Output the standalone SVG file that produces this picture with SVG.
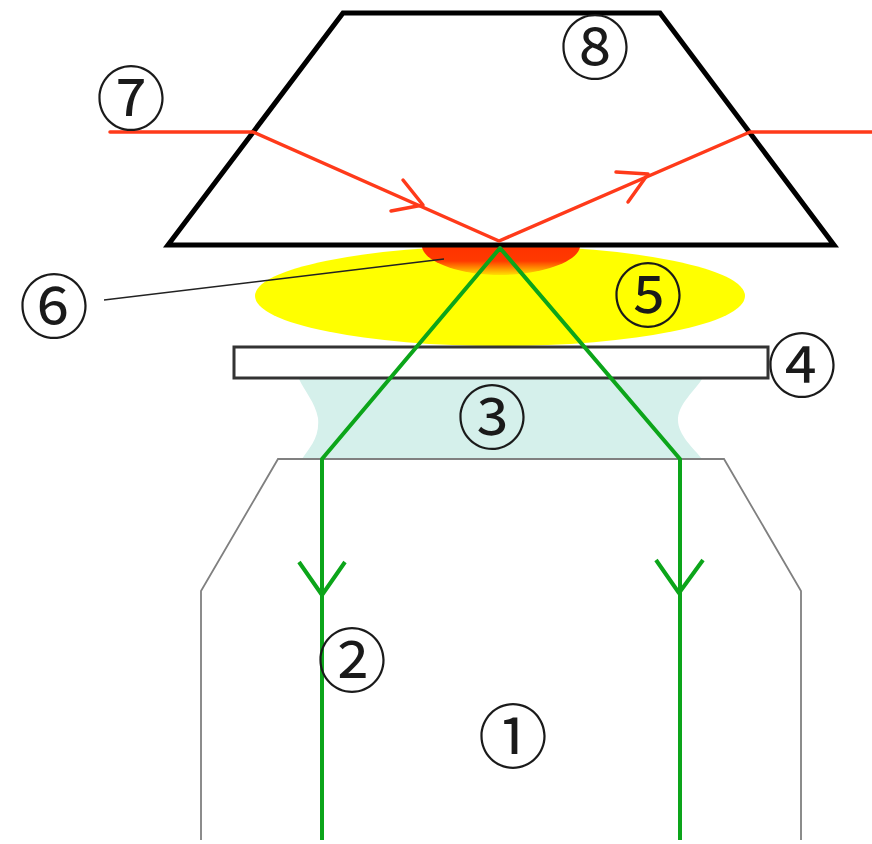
<svg xmlns="http://www.w3.org/2000/svg" width="872" height="844" viewBox="0 0 872 844">
<defs>
<style>
.lab{font-family:"Noto Sans CJK JP","DejaVu Sans",sans-serif;font-size:70px;font-weight:400;fill:#1a1a1a;text-anchor:middle;dominant-baseline:central}
.red{fill:none;stroke:#ff3a1a;stroke-width:3.5;stroke-linecap:round;stroke-linejoin:round}
.grn{fill:none;stroke:#0ca51a;stroke-width:4;stroke-linejoin:round}
.gry{fill:none;stroke:#808080;stroke-width:1.8}
</style>
<linearGradient id="hot" x1="0" y1="0" x2="0" y2="1">
<stop offset="0" stop-color="#ff3300"/><stop offset="0.5" stop-color="#ff3a00"/><stop offset="1" stop-color="#ffe000"/>
</linearGradient>
</defs>
<rect width="872" height="844" fill="#fff"/>
<g id="immersion-oil"><path d="M299 379H702C694 392 680 402 678 418C677 435 694 448 702 459H302C309 448 320 438 318 418C315 402 305 392 299 379Z" fill="#d5f0eb"/></g>
<g id="objective"><path class="gry" d="M201 840V591L278 459H724L801 591V840"/></g>
<g id="sample"><ellipse cx="500" cy="296" rx="245" ry="50" fill="#ffff00"/></g>
<g id="evanescent"><path d="M422 247H580C578 262 540 275 500 275C460 275 424 262 422 247Z" fill="url(#hot)"/></g>
<g id="cover-glass"><rect x="234" y="347" width="534" height="31" fill="#fff" stroke="#333" stroke-width="3"/></g>
<g id="prism"><path d="M343 13H660L834 245H168Z" fill="none" stroke="#000" stroke-width="5"/></g>
<g id="connectors">
<path class="red" d="M110 132H253L499 241L750 132H872"/>
<path class="red" d="M403 180L423 205L391 211"/>
<path class="red" d="M616 172L648 174L628 202"/>
<path class="grn" d="M322 840V459L500 248L680 459V840"/>
<path class="grn" d="M299 562L322 595L345 562"/>
<path class="grn" d="M656 560L679 593L703 560"/>
<path d="M104 300L444 259" fill="none" stroke="#222" stroke-width="1.5"/>
</g>
<g id="label-1"><text class="lab" x="513" y="732">①</text></g>
<g id="label-2"><text class="lab" x="352" y="656">②</text></g>
<g id="label-3"><text class="lab" x="492" y="413">③</text></g>
<g id="label-4"><text class="lab" x="802" y="361">④</text></g>
<g id="label-5"><text class="lab" x="648" y="291">⑤</text></g>
<g id="label-6"><text class="lab" x="54" y="302">⑥</text></g>
<g id="label-7"><text class="lab" x="131" y="94">⑦</text></g>
<g id="label-8"><text class="lab" x="595" y="43">⑧</text></g>
</svg>
